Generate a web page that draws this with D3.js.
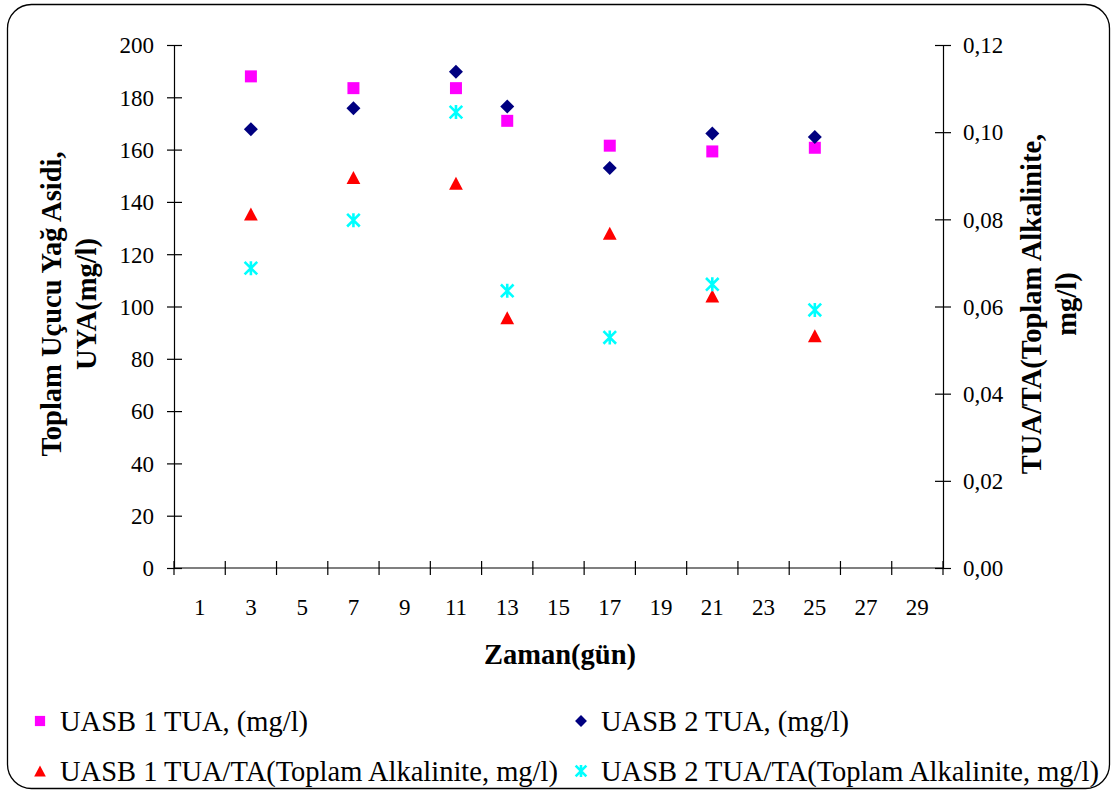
<!DOCTYPE html>
<html>
<head>
<meta charset="utf-8">
<script src="https://cdn.jsdelivr.net/npm/d3@7"></script>
<style>
  html, body { margin: 0; padding: 0; background: #ffffff; }
  svg { display: block; }
  text { font-family: "Liberation Serif", "Times New Roman", Times, serif; fill: #000; }
</style>
</head>
<body>
<svg id="chart" width="1113" height="792"></svg>
<script>
// Day categories shown on the time axis (every other day)
const dayCategories = ["1","3","5","7","9","11","13","15","17","19","21","23","25","27","29"];
// Sampling days
const sampleDays = ["3","7","11","13","17","21","25"];
// Total volatile fatty acids (mg/l)
const uasb1Tua = [188.0, 183.5, 183.5, 171.0, 161.5, 159.3, 160.7];
const uasb2Tua = [167.8, 175.8, 189.8, 176.5, 153.0, 166.2, 164.8];
// TUA / total alkalinity ratio
const uasb1Ratio = [0.0812, 0.0896, 0.0883, 0.0574, 0.0768, 0.0624, 0.0533];
const uasb2Ratio = [0.0688, 0.0798, 0.1046, 0.0636, 0.0529, 0.0651, 0.0592];
// Axis ticks
const leftTicks = [0, 20, 40, 60, 80, 100, 120, 140, 160, 180, 200];
const rightTicks = [0, 0.02, 0.04, 0.06, 0.08, 0.10, 0.12];

const seriesNames = [
  "UASB 1 TUA, (mg/l)",
  "UASB 2 TUA, (mg/l)",
  "UASB 1 TUA/TA(Toplam Alkalinite, mg/l)",
  "UASB 2 TUA/TA(Toplam Alkalinite, mg/l)"
];

const svg = d3.select("#chart");

// outer rounded frame
svg.append("rect")
  .attr("x", 7.5).attr("y", 4.5)
  .attr("width", 1102).attr("height", 784)
  .attr("rx", 24).attr("ry", 24)
  .attr("fill", "#fff").attr("stroke", "#000").attr("stroke-width", 1.3);

const plot = { left: 174, right: 943, top: 45, bottom: 568 };

const x = d3.scaleBand().domain(dayCategories).range([plot.left, plot.right]).padding(0);
const yL = d3.scaleLinear().domain([0, 200]).range([plot.bottom, plot.top]);
const yR = d3.scaleLinear().domain([0, 0.12]).range([plot.bottom, plot.top]);
const cx = d => x(d) + x.bandwidth() / 2;

const tickFont = "23px";
const titleFont = "28.5px";

// left axis
const gL = svg.append("g").attr("transform", `translate(${plot.left},0)`)
  .call(d3.axisLeft(yL).tickValues(leftTicks).tickSizeInner(7).tickSizeOuter(0).tickPadding(13));
gL.selectAll(".tick line").attr("x1", -7).attr("x2", 8);
gL.selectAll(".tick text").style("font-size", tickFont).style("font-family", null).attr("dy", "0.34em");

// right axis
const comma = d3.format(".2f");
const gR = svg.append("g").attr("transform", `translate(${plot.right},0)`)
  .call(d3.axisRight(yR).tickValues(rightTicks).tickFormat(v => comma(v).replace(".", ","))
    .tickSizeInner(7).tickSizeOuter(0).tickPadding(13));
gR.selectAll(".tick line").attr("x1", -8).attr("x2", 8);
gR.selectAll(".tick text").style("font-size", tickFont).style("font-family", null).attr("dy", "0.34em");

// bottom axis: labels centred in each band, ticks on band boundaries
const gB = svg.append("g").attr("transform", `translate(0,${plot.bottom})`)
  .call(d3.axisBottom(x).tickSize(0).tickPadding(0));
gB.selectAll(".tick line").remove();
gB.selectAll(".tick text").style("font-size", tickFont).style("font-family", null)
  .attr("y", 47).attr("dy", 0);
gB.select(".domain").attr("d", `M${plot.left},0H${plot.right}`);
const boundaries = dayCategories.map(d => x(d)).concat([x.range()[1]]);
gB.selectAll(".bound").data(boundaries).join("line").attr("class", "bound")
  .attr("x1", d => d).attr("x2", d => d).attr("y1", -7).attr("y2", 7)
  .attr("stroke", "#000");

[gL, gR, gB].forEach(g => g.selectAll(".domain, line").attr("stroke", "#000").attr("stroke-width", 1.2));

// axis titles
const leftTitle = svg.append("text")
  .attr("transform", "translate(61,304) rotate(-90)")
  .attr("text-anchor", "middle").style("font-size", titleFont).style("font-weight", "bold");
leftTitle.append("tspan").attr("x", 0).attr("dy", 0).text("Toplam Uçucu Yağ Asidi,");
leftTitle.append("tspan").attr("x", 0).attr("dy", 35).text("UYA(mg/l)");

const rightTitle = svg.append("text")
  .attr("transform", "translate(1041,304) rotate(-90)")
  .attr("text-anchor", "middle").style("font-size", titleFont).style("font-weight", "bold");
rightTitle.append("tspan").attr("x", 0).attr("dy", 0).text("TUA/TA(Toplam Alkalinite,");
rightTitle.append("tspan").attr("x", 0).attr("dy", 35).text("mg/l)");

svg.append("text").attr("x", 560).attr("y", 664).attr("text-anchor", "middle")
  .style("font-size", titleFont).style("font-weight", "bold").text("Zaman(gün)");

// marker shapes
const shapes = {
  square: s => `M${-s/2},${-s/2}h${s}v${s}h${-s}Z`,
  diamond: s => `M0,${-s/2}L${s/2},0L0,${s/2}L${-s/2},0Z`,
  triangle: s => `M0,${-s/2}L${s*0.53},${s/2}L${-s*0.53},${s/2}Z`,
  star: s => `M0,${-s/2}V${s/2}M${-s*0.45},${-s*0.45}L${s*0.45},${s*0.45}M${-s*0.45},${s*0.45}L${s*0.45},${-s*0.45}`
};
const series = [
  { values: uasb1Tua, y: yL, shape: "square", size: 12, color: "#FF00FF", fill: true },
  { values: uasb2Tua, y: yL, shape: "diamond", size: 14, color: "#000080", fill: true },
  { values: uasb1Ratio, y: yR, shape: "triangle", size: 13, color: "#FF0000", fill: true },
  { values: uasb2Ratio, y: yR, shape: "star", size: 14, color: "#00FFFF", fill: false }
];

function styleMarker(sel, s) {
  if (s.fill) sel.attr("fill", s.color).attr("stroke", "none");
  else sel.attr("fill", "none").attr("stroke", s.color).attr("stroke-width", 2.6);
}

series.forEach(s => {
  const sel = svg.append("g").selectAll("path").data(s.values).join("path")
    .attr("d", shapes[s.shape](s.size))
    .attr("transform", (v, i) => `translate(${cx(sampleDays[i])},${s.y(v)})`);
  styleMarker(sel, s);
});

// legend
const legendPos = [
  { x: 40, y: 721, tx: 60 },
  { x: 581, y: 721, tx: 601 },
  { x: 40, y: 771, tx: 60 },
  { x: 581, y: 771, tx: 601 }
];
series.forEach((s, i) => {
  const p = legendPos[i];
  const m = svg.append("path").attr("d", shapes[s.shape](s.size * 0.85))
    .attr("transform", `translate(${p.x},${p.y})`);
  styleMarker(m, s);
  svg.append("text").attr("x", p.tx).attr("y", p.y + 10)
    .style("font-size", "28.5px").text(seriesNames[i]);
});
</script>
</body>
</html>
